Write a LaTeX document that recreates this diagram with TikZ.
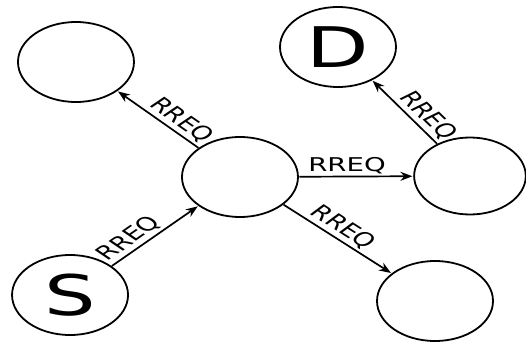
\documentclass[tikz,border=0pt]{standalone}
\usepackage{fontspec}
\setmainfont{DejaVu Sans}
\usetikzlibrary{arrows.meta}
\tikzset{
  station/.style={circle, draw, line width=1.8pt, minimum size=80pt, inner sep=0pt,
    font=\fontsize{56}{56}\selectfont},
  msg/.style={-{Stealth[length=12pt,width=9pt]}, line width=1.7pt, shorten >=0.5pt},
  tag/.style={font=\fontsize{19}{19}\selectfont, inner sep=2pt}
}
\begin{document}
\begin{tikzpicture}[x=1pt,y=1pt]
\useasboundingbox (0,0) rectangle (526,-342);
\begin{scope}[xscale=1.45, transform shape]
  % stations
  \node[station] (tl) at (52.4,-62) {};
  \node[station] (d)  at (233.1,-47) {D};
  \node[station] (c)  at (165.5,-177) {};
  \node[station, minimum size=77pt] (rt) at (324.1,-176) {};
  \node[station] (s)  at (48.3,-295) {S};
  \node[station] (br) at (300,-301) {};

  % route requests
  \draw[msg] (s) -- node[tag, pos=0.33, above, rotate=45.5] {RREQ} (c);
  \draw[msg] (c) -- node[tag, pos=0.35, above, rotate=-45.5] {RREQ} (tl);
  \draw[msg] (c) -- node[tag, pos=0.42, above] {RREQ} (rt);
  \draw[msg] (c) -- node[tag, pos=0.45, above, rotate=-42.7] {RREQ} (br);
  \draw[msg] (rt) -- node[tag, pos=0.34, above, rotate=-54.5] {RREQ} (d);
\end{scope}
\end{tikzpicture}
\end{document}
